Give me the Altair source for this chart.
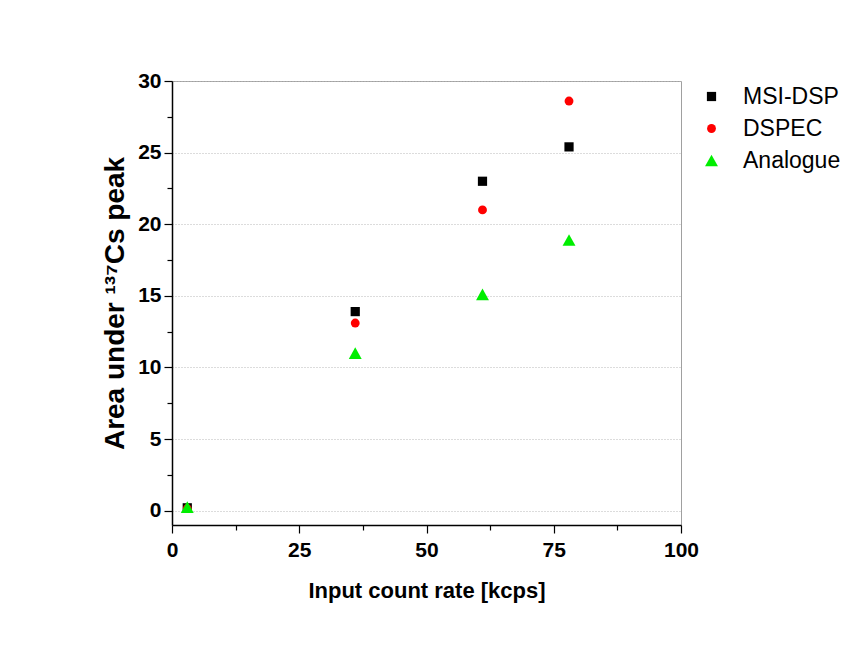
import altair as alt
import pandas as pd

series_names = ["MSI-DSP", "DSPEC", "Analogue"]
input_rate = [3, 36, 61, 78]
msi_dsp = [0.2, 13.9, 23.0, 25.4]
dspec = [0.15, 13.1, 21.0, 28.6]
analogue = [0.25, 11.0, 15.1, 18.9]

x_tick_values = [0, 12.5, 25, 37.5, 50, 62.5, 75, 87.5, 100]
y_tick_values = [0, 2.5, 5, 7.5, 10, 12.5, 15, 17.5, 20, 22.5, 25, 27.5, 30]

colors = ["#000000", "#ff0000", "#00ee00"]
shapes = ["square", "circle", "M0,-1.38L1.52,1.38L-1.52,1.38Z"]
sizes = [85, 72, 130]

rows = []
for name, vals in zip(series_names, [msi_dsp, dspec, analogue]):
    for xv, yv in zip(input_rate, vals):
        rows.append({"series": name, "rate": xv, "area": yv})
df = pd.DataFrame(rows)

FONT = "Liberation Sans"

legend = alt.Legend(
    title=None, orient="none", legendX=528, legendY=4, padding=0,
    labelFont=FONT, labelFontSize=23, labelColor="#000000",
    symbolSize=160, symbolStrokeWidth=0, labelOffset=20, rowPadding=8,
)

chart = alt.Chart(df).mark_point(filled=True, opacity=1).encode(
    x=alt.X(
        "rate:Q",
        scale=alt.Scale(domain=[0, 100], nice=False, zero=False),
        axis=alt.Axis(
            values=x_tick_values,
            title="Input count rate [kcps]",
            labelExpr="datum.value % 25 === 0 ? datum.label : ''",
            tickSize={"condition": {"test": "datum.value % 25 === 0", "value": 8}, "value": 5},
            grid=False,
            labelFontSize=21, titleFontSize=22,
            labelPadding=6, titlePadding=20,
            labelFlush=False,
        ),
    ),
    y=alt.Y(
        "area:Q",
        scale=alt.Scale(domain=[-1, 30], nice=False, zero=False),
        axis=alt.Axis(
            values=y_tick_values,
            title="Area under ¹³⁷Cs peak",
            labelExpr="datum.value % 5 === 0 ? datum.label : ''",
            tickSize={"condition": {"test": "datum.value % 5 === 0", "value": 8}, "value": 5},
            grid=True,
            gridOpacity={"condition": {"test": "datum.value % 5 === 0", "value": 1}, "value": 0},
            gridColor="#b8b8b8", gridDash=[1, 2], gridWidth=1,
            labelFontSize=21, titleFontSize=28,
            labelPadding=3, titlePadding=8,
            labelFlush=False,
        ),
    ),
    color=alt.Color("series:N", scale=alt.Scale(domain=series_names, range=colors), legend=legend),
    shape=alt.Shape("series:N", scale=alt.Scale(domain=series_names, range=shapes), legend=legend),
    size=alt.Size("series:N", scale=alt.Scale(domain=series_names, range=sizes), legend=None),
).properties(
    width=509, height=444,
    padding={"left": 164, "top": 73, "right": 170, "bottom": 116},
    autosize=alt.AutoSizeParams(type="none"),
).configure_view(
    stroke="#a0a0a0", strokeWidth=1,
).configure_axis(
    labelFont=FONT, titleFont=FONT,
    labelFontWeight="bold", titleFontWeight="bold",
    labelColor="#000000", titleColor="#000000",
    domainColor="#000000", domainWidth=1.5,
    tickColor="#000000", tickWidth=1.2,
)

chart.save("out.html", embed_options={"renderer": "svg", "actions": False})
